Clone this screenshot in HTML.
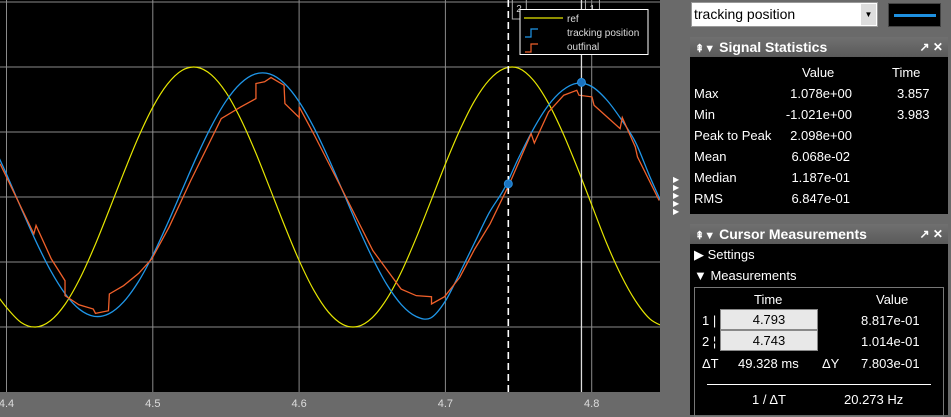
<!DOCTYPE html>
<html><head><meta charset="utf-8"><style>
*{margin:0;padding:0;box-sizing:border-box}
body{width:951px;height:415px;background:#6a6a6a;font-family:"Liberation Sans",sans-serif;position:relative;overflow:hidden;color:#fff}
.a{position:absolute;white-space:nowrap}
.hdr{position:absolute;left:690px;width:258px;height:20px;background:linear-gradient(#707070,#5a5a5a);font-weight:bold;font-size:14px;line-height:20px}
.t13{font-size:13px}
</style></head><body>
<svg id="chart" class="a" style="left:0;top:0" width="690" height="415"></svg>
<div class="a" style="left:673px;top:176px;font-size:8px;line-height:8px;color:#fff">▶<br>▶<br>▶<br>▶<br>▶</div>

<div class="a" style="left:691px;top:2px;width:187px;height:25px;background:#fff;border:1px solid #999;color:#000;font-size:14px;line-height:23px;padding-left:2px">tracking position<div class="a" style="right:1px;top:1px;width:15px;height:21px;background:#ddd;font-size:8px;line-height:21px;text-align:center">▼</div></div>
<div class="a" style="left:888px;top:3px;width:53px;height:24px;background:#000;border:1px solid #444"><div class="a" style="left:5px;top:10px;width:42px;height:3px;background:#1e90e0"></div></div>

<div class="hdr" style="top:37px"><span style="font-size:11px;padding:0 4px 0 5px">⇞▼</span>Signal Statistics<span class="a" style="right:5px;top:0;font-size:12px">↗ ✕</span></div>
<div class="a" style="left:690px;top:57px;width:258px;height:157px;background:#000">
 <div class="a t13" style="left:112px;top:8px">Value</div><div class="a t13" style="left:202px;top:8px">Time</div>
 <div class="a t13" style="left:4px;top:29px">Max</div><div class="a t13" style="left:162px;top:29px;transform:translateX(-100%)">1.078e+00</div><div class="a t13" style="left:207px;top:29px">3.857</div>
 <div class="a t13" style="left:4px;top:50px">Min</div><div class="a t13" style="left:162px;top:50px;transform:translateX(-100%)">-1.021e+00</div><div class="a t13" style="left:207px;top:50px">3.983</div>
 <div class="a t13" style="left:4px;top:71px">Peak to Peak</div><div class="a t13" style="left:162px;top:71px;transform:translateX(-100%)">2.098e+00</div>
 <div class="a t13" style="left:4px;top:92px">Mean</div><div class="a t13" style="left:160px;top:92px;transform:translateX(-100%)">6.068e-02</div>
 <div class="a t13" style="left:4px;top:113px">Median</div><div class="a t13" style="left:160px;top:113px;transform:translateX(-100%)">1.187e-01</div>
 <div class="a t13" style="left:4px;top:134px">RMS</div><div class="a t13" style="left:160px;top:134px;transform:translateX(-100%)">6.847e-01</div>
</div>

<div class="hdr" style="top:224px"><span style="font-size:11px;padding:0 4px 0 5px">⇞▼</span>Cursor Measurements<span class="a" style="right:5px;top:0;font-size:12px">↗ ✕</span></div>
<div class="a" style="left:690px;top:244px;width:258px;height:171px;background:#000">
 <div class="a t13" style="left:4px;top:3px">▶ Settings</div>
 <div class="a t13" style="left:4px;top:24px">▼ Measurements</div>
 <div class="a" style="left:4px;top:43px;width:250px;height:130px;border:1px solid #777">
  <div class="a t13" style="left:59px;top:4px">Time</div><div class="a t13" style="left:181px;top:4px">Value</div>
  <div class="a t13" style="left:7px;top:25px">1 |</div>
  <div class="a t13" style="left:25px;top:21px;width:98px;height:21px;background:#e8e8e8;border:1px solid #888;color:#000;text-align:center;line-height:19px">4.793</div>
  <div class="a t13" style="left:166px;top:25px">8.817e-01</div>
  <div class="a t13" style="left:7px;top:46px">2 ¦</div>
  <div class="a t13" style="left:25px;top:42px;width:98px;height:21px;background:#e8e8e8;border:1px solid #888;color:#000;text-align:center;line-height:19px">4.743</div>
  <div class="a t13" style="left:166px;top:46px">1.014e-01</div>
  <div class="a t13" style="left:7px;top:68px">ΔT</div><div class="a t13" style="left:43px;top:68px">49.328 ms</div>
  <div class="a t13" style="left:127px;top:68px">ΔY</div><div class="a t13" style="left:166px;top:68px">7.803e-01</div>
  <div class="a" style="left:12px;top:96px;width:224px;height:1px;background:#fff"></div>
  <div class="a t13" style="left:57px;top:104px">1 / ΔT</div><div class="a t13" style="left:149px;top:104px">20.273 Hz</div>
 </div>
</div>

<script>
const refTimes=[4.39,4.40,4.41,4.42,4.43,4.44,4.45,4.46,4.47,4.48,4.49,4.50,4.51,4.52,4.53,4.54,4.55,4.56,4.57,4.58,4.59,4.60,4.61,4.62,4.63,4.64,4.65,4.66,4.67,4.68,4.69,4.70,4.71,4.72,4.73,4.74,4.75,4.76,4.77,4.78,4.79,4.80,4.81,4.82,4.83,4.84,4.85];
const refValues=[-0.70,-0.85,-0.965,-1.0,-0.952,-0.826,-0.631,-0.384,-0.105,0.182,0.456,0.691,0.868,0.974,0.998,0.94,0.805,0.602,0.35,0.068,-0.218,-0.488,-0.716,-0.885,-0.981,-0.996,-0.928,-0.783,-0.574,-0.316,-0.033,0.254,0.518,0.741,0.901,0.987,0.991,0.9,0.73,0.50,0.23,-0.06,-0.35,-0.60,-0.80,-0.94,-1.0];
const trackTimes=[4.39,4.40,4.41,4.42,4.43,4.44,4.45,4.46,4.47,4.48,4.49,4.50,4.51,4.52,4.53,4.54,4.55,4.56,4.57,4.58,4.59,4.60,4.61,4.62,4.63,4.64,4.65,4.66,4.67,4.68,4.69,4.70,4.71,4.72,4.73,4.74,4.75,4.76,4.77,4.78,4.79,4.80,4.81,4.82,4.83,4.84,4.85];
const trackValues=[0.42,0.176,-0.086,-0.338,-0.563,-0.743,-0.865,-0.918,-0.898,-0.807,-0.654,-0.448,-0.206,0.053,0.31,0.543,0.737,0.874,0.946,0.946,0.873,0.733,0.537,0.30,0.041,-0.222,-0.466,-0.674,-0.829,-0.919,-0.93,-0.80,-0.58,-0.35,-0.12,0.06,0.30,0.52,0.70,0.82,0.875,0.85,0.75,0.60,0.42,0.15,-0.10];
const outTimes=[4.3956,4.4187,4.4202,4.4306,4.44,4.44,4.4495,4.4593,4.4608,4.4697,4.4703,4.48,4.4904,4.4993,4.5111,4.526,4.5468,4.5601,4.5705,4.5705,4.5764,4.5808,4.5897,4.5903,4.6001,4.6001,4.6105,4.6297,4.6504,4.6697,4.6801,4.6905,4.6905,4.6994,4.7098,4.7201,4.7305,4.7438,4.7586,4.7608,4.7705,4.7809,4.7898,4.7913,4.8002,4.8016,4.8194,4.8209,4.8298,4.8313,4.8461];
const outValues=[0.256,-0.284,-0.219,-0.476,-0.644,-0.759,-0.829,-0.862,-0.895,-0.875,-0.746,-0.682,-0.587,-0.476,-0.232,0.128,0.603,0.693,0.757,0.873,0.886,0.919,0.86,0.719,0.611,0.693,0.474,0.051,-0.412,-0.708,-0.759,-0.767,-0.823,-0.767,-0.618,-0.399,-0.207,0.102,0.487,0.415,0.654,0.783,0.821,0.783,0.77,0.706,0.526,0.611,0.385,0.308,-0.027];
const xTicks=[4.4,4.5,4.6,4.7,4.8];
const xTickLabels=["4.4","4.5","4.6","4.7","4.8"];
const yGrid=[-1,-0.5,0,0.5,1,1.5];
const cursorTimes=[4.793,4.743];
const cursorValues=[0.8817,0.1014];

const NS="http://www.w3.org/2000/svg";
const svg=document.getElementById('chart');
const PL=0,PR=660,PT=0,PB=392;
const X=t=>6.5+(t-4.4)*1463;
const Y=v=>197-v*130;
function mk(tag,at,parent){const e=document.createElementNS(NS,tag);for(const k in at)e.setAttribute(k,at[k]);(parent||svg).appendChild(e);return e;}
const defs=mk('defs',{});const cp=mk('clipPath',{id:'cp'},defs);mk('rect',{x:PL,y:PT,width:PR-PL,height:PB-PT},cp);
const bg=mk('rect',{x:PL,y:PT,width:PR-PL,height:PB-PT,fill:'#000'});


const g=mk('g',{'clip-path':'url(#cp)'});
xTicks.forEach((t,i)=>{
 const l=mk('line',{x1:X(t),x2:X(t),y1:PT,y2:PB,stroke:'#8a8a8a','stroke-width':1},g);
 
 
 const tx=mk('text',{x:X(t),y:407,'text-anchor':'middle',fill:'#ddd','font-size':'11','font-family':'Liberation Sans'});
 tx.textContent=xTickLabels[i];
 
 
});
yGrid.forEach(v=>{
 const l=mk('line',{x1:PL,x2:PR,y1:Y(v),y2:Y(v),stroke:'#8a8a8a','stroke-width':1},g);
 
 
});
function smooth(ts,vs){const p=ts.map((t,i)=>[X(t),Y(vs[i])]);let d='M'+p[0][0]+','+p[0][1];
 for(let i=0;i<p.length-1;i++){const p0=p[i-1]||p[i],p1=p[i],p2=p[i+1],p3=p[i+2]||p2;
 d+=`C${p1[0]+(p2[0]-p0[0])/6},${p1[1]+(p2[1]-p0[1])/6} ${p2[0]-(p3[0]-p1[0])/6},${p2[1]-(p3[1]-p1[1])/6} ${p2[0]},${p2[1]}`;}return d;}
const r=mk('path',{d:smooth(refTimes,refValues),fill:'none',stroke:'#e6e600','stroke-width':1.2},g);


const b=mk('path',{d:smooth(trackTimes,trackValues),fill:'none',stroke:'#1f96e8','stroke-width':1.3},g);


const o=mk('polyline',{points:outTimes.map((t,i)=>X(t)+','+Y(outValues[i])).join(' '),fill:'none',stroke:'#f0602a','stroke-width':1.3},g);


const c2=mk('line',{x1:X(cursorTimes[1]),x2:X(cursorTimes[1]),y1:0,y2:PB,stroke:'#fff','stroke-width':1.6,'stroke-dasharray':'7,4'},g);


const c1=mk('line',{x1:X(cursorTimes[0]),x2:X(cursorTimes[0]),y1:0,y2:PB,stroke:'#ddd','stroke-width':1.3},g);


[[1,'2'],[0,'1']].forEach(([i,lab])=>{
 const x=X(cursorTimes[i]);
 const bx=mk('path',{d:`M${x+4},0 V19 H${x+18} V0`,fill:'none',stroke:'#aaa','stroke-width':1},g);
 
 
 const t=mk('text',{x:x+8,y:12,fill:'#ccc','font-size':'10','font-family':'Liberation Sans'},g);t.textContent=lab;
 
 
});
cursorTimes.forEach((t,i)=>{
 const c=mk('circle',{cx:X(t),cy:Y(cursorValues[i]),r:4,fill:'#1a73c0',stroke:'#2a90e0'},g);
 
 
});
const lg=mk('g',{});


mk('rect',{x:520,y:9.5,width:128,height:45,fill:'#000',stroke:'#fff','stroke-width':1},lg);
mk('line',{x1:524,x2:563,y1:18,y2:18,stroke:'#e6e600','stroke-width':1.2},lg);
mk('path',{d:'M525,37 H531 V29 H538',fill:'none',stroke:'#1f96e8','stroke-width':1.2},lg);
mk('path',{d:'M525,52 H531 V44 H538',fill:'none',stroke:'#f0602a','stroke-width':1.2},lg);
[['ref',22],['tracking position',36],['outfinal',50]].forEach(([s,y])=>{
 const t=mk('text',{x:567,y:y,fill:'#ddd','font-size':'10','font-family':'Liberation Sans'},lg);t.textContent=s;
 
 
});
</script>
</body></html>
